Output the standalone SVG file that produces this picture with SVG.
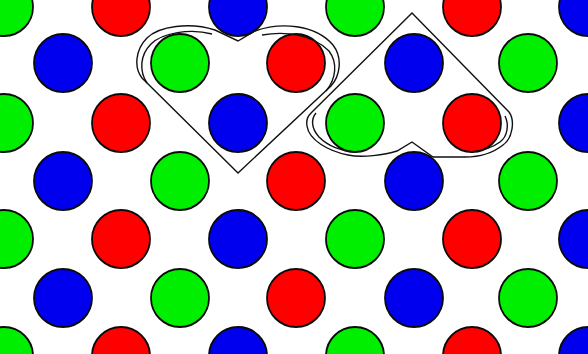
<svg xmlns="http://www.w3.org/2000/svg" width="588" height="354" viewBox="0 0 588 354">
<style>
circle{stroke:#0a0a0a;stroke-width:1.8}
.g{fill:#00ee00}.r{fill:#ff0000}.b{fill:#0000ee}
.h{fill:none;stroke:#111;stroke-width:1.4;stroke-linejoin:miter}
</style>
<rect width="588" height="354" fill="#ffffff"/>
<g id="dots">
<circle class="g" cx="4" cy="7" r="29"/><circle class="r" cx="121" cy="7" r="29"/><circle class="b" cx="238" cy="7" r="29"/><circle class="g" cx="355" cy="7" r="29"/><circle class="r" cx="472" cy="7" r="29"/><circle class="b" cx="588" cy="7" r="29"/>
<circle class="b" cx="63" cy="63" r="29"/><circle class="g" cx="180" cy="63" r="29"/><circle class="r" cx="296" cy="63" r="29"/><circle class="b" cx="414" cy="63" r="29"/><circle class="g" cx="528" cy="63" r="29"/>
<circle class="g" cx="4" cy="123" r="29"/><circle class="r" cx="121" cy="123" r="29"/><circle class="b" cx="238" cy="123" r="29"/><circle class="g" cx="355" cy="123" r="29"/><circle class="r" cx="472" cy="123" r="29"/><circle class="b" cx="588" cy="123" r="29"/>
<circle class="b" cx="63" cy="181" r="29"/><circle class="g" cx="180" cy="181" r="29"/><circle class="r" cx="296" cy="181" r="29"/><circle class="b" cx="414" cy="181" r="29"/><circle class="g" cx="528" cy="181" r="29"/>
<circle class="g" cx="4" cy="239" r="29"/><circle class="r" cx="121" cy="239" r="29"/><circle class="b" cx="238" cy="239" r="29"/><circle class="g" cx="355" cy="239" r="29"/><circle class="r" cx="472" cy="239" r="29"/><circle class="b" cx="588" cy="239" r="29"/>
<circle class="b" cx="63" cy="298" r="29"/><circle class="g" cx="180" cy="298" r="29"/><circle class="r" cx="296" cy="298" r="29"/><circle class="b" cx="414" cy="298" r="29"/><circle class="g" cx="528" cy="298" r="29"/>
<circle class="g" cx="4" cy="356" r="29"/><circle class="r" cx="121" cy="356" r="29"/><circle class="b" cx="238" cy="356" r="29"/><circle class="g" cx="355" cy="356" r="29"/><circle class="r" cx="472" cy="356" r="29"/><circle class="b" cx="588" cy="356" r="29"/>
</g>
<g id="heart1">
<path class="h" d="M238,173 L142,78 C134,68 135,50 147,38 C159,26 190,22 215,30 L238,41 L255,31 C280,22 315,24 333,45 C343,58 340,76 331,86 L238,173 Z"/>
<path class="h" d="M147,83 C139,71 140,55 151,44 C162,33 190,28 212,34"/>
<path class="h" d="M262,35 C285,31 312,34 329,51 C338,63 336,79 326,91"/>
</g>
<g id="heart2">
<path class="h" d="M412,13 L509,112 C515,120 513,138 503,145 C493,153 480,157 465,157 L433,157 L412,142 L397,151 C385,155 362,158 348,155 C328,151 309,140 307,126 C306,119 308,116 312,112 L412,13 Z"/>
<path class="h" d="M316,113 C311,119 311,128 319,137 C328,146 340,151 356,152"/>
<path class="h" d="M505,116 C509,124 508,136 500,142 C492,148 482,151 470,152"/>
</g>
</svg>
